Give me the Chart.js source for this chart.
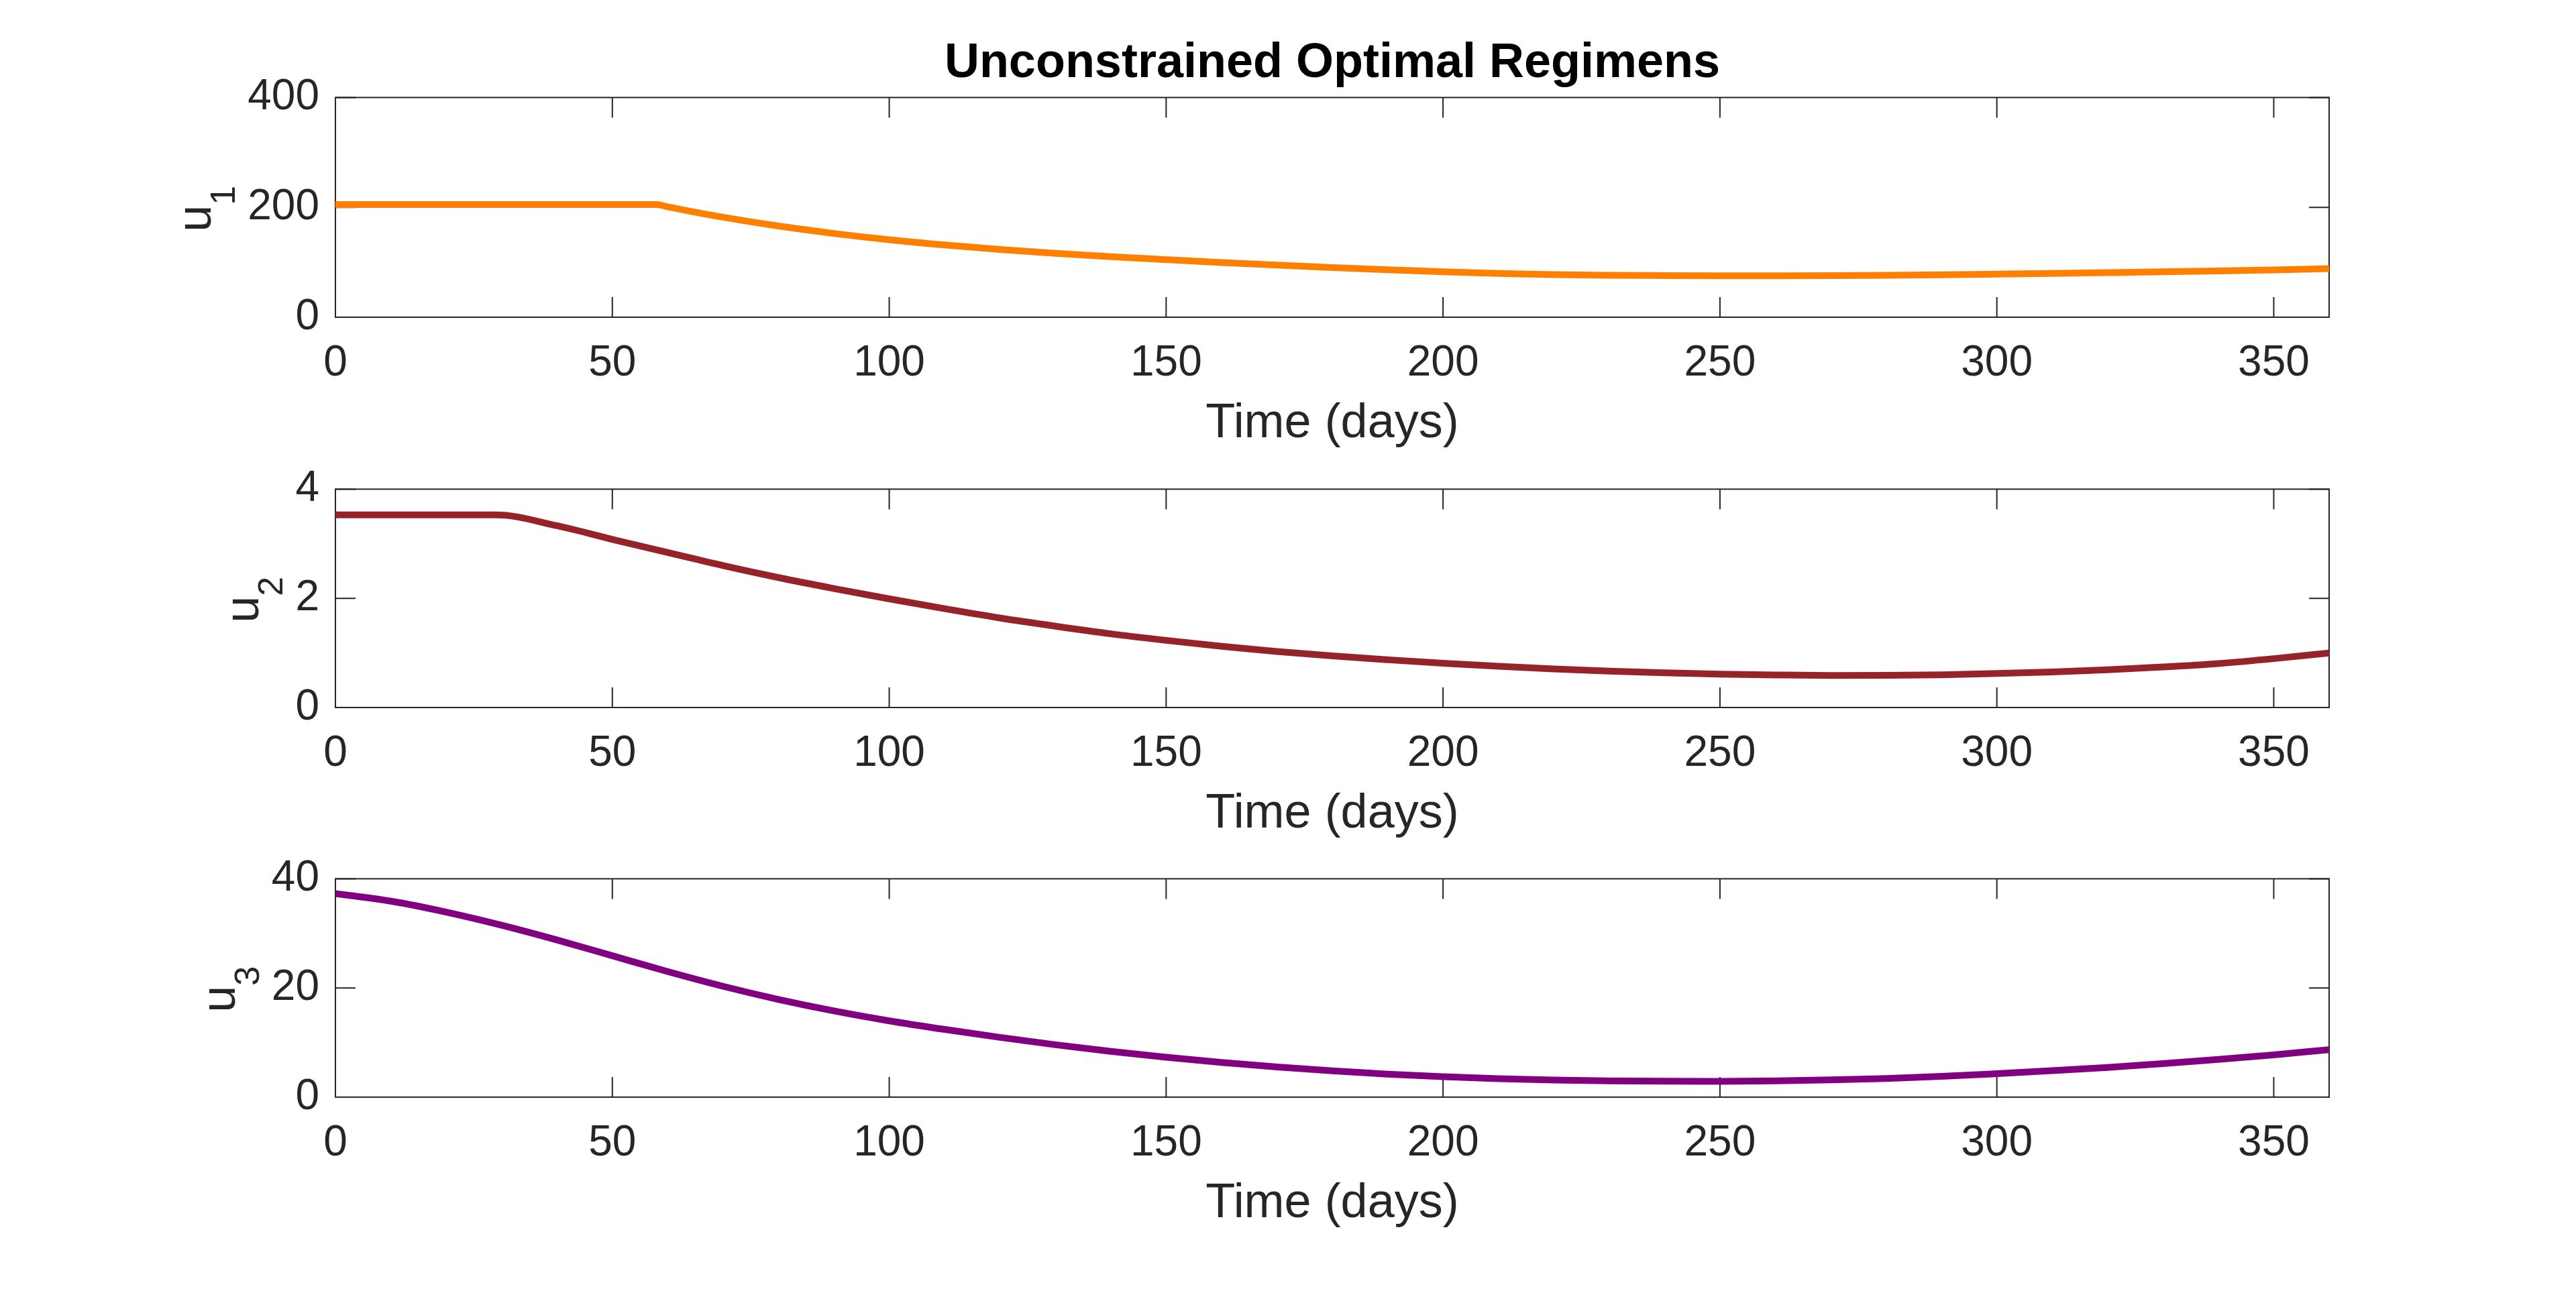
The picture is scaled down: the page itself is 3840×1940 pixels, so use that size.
<!DOCTYPE html>
<html>
<head>
<meta charset="utf-8">
<title>Unconstrained Optimal Regimens</title>
<script src="https://cdn.jsdelivr.net/npm/chart.js@4.4.1/dist/chart.umd.min.js"></script>
<style>
  html, body { margin: 0; padding: 0; background: #fff; }
  body { width: 3840px; height: 1940px; position: relative; overflow: hidden; }
  .panel { position: absolute; left: 0; width: 3840px; }
</style>
</head>
<body>
<div class="panel" style="top:0px;height:677px"><canvas id="c1"></canvas></div>
<div class="panel" style="top:667px;height:592px"><canvas id="c2"></canvas></div>
<div class="panel" style="top:1248px;height:592px"><canvas id="c3"></canvas></div>
<script>
// values
const xTicks = [0, 50, 100, 150, 200, 250, 300, 350];
const xMax = 360;

const u1Days = [0, 10, 20, 30, 40, 50, 58, 60, 70, 80, 90, 100, 110, 120, 130, 140, 150, 160, 170, 180,
    190, 200, 210, 220, 230, 240, 250, 260, 270, 280, 290, 300, 310, 320, 330, 340, 350, 360];
const u1Values = [205, 205, 205, 205, 205, 205, 205, 201, 182, 166, 152.5, 141, 131.5, 123.3, 116.3, 110.2, 104.8, 99.6, 94.8, 90.4,
    86.3, 82.6, 79.6, 77.6, 76.4, 75.8, 75.5, 75.5, 75.8, 76.4, 77.3, 78.5, 79.8, 81.2, 82.7, 84.3, 86.2, 88.5];
const u1Ticks = [0, 200, 400];

const u2Days = [0, 10, 20, 29, 40, 50, 60, 70, 80, 90, 100, 110, 120, 130, 140, 150, 160, 170, 180,
    190, 200, 210, 220, 230, 240, 250, 260, 270, 280, 290, 300, 310, 320, 330, 340, 350, 360];
const u2Values = [3.53, 3.53, 3.53, 3.53, 3.33, 3.08, 2.84, 2.60, 2.38, 2.18, 1.99, 1.81, 1.64, 1.49, 1.35, 1.23, 1.12, 1.025, 0.945,
    0.875, 0.81, 0.755, 0.705, 0.665, 0.635, 0.612, 0.597, 0.588, 0.59, 0.60, 0.622, 0.652, 0.692, 0.742, 0.805, 0.895, 1.0];
const u2Ticks = [0, 2, 4];

const u3Days = [0, 10, 20, 30, 40, 50, 60, 70, 80, 90, 100, 110, 120, 130, 140, 150, 160, 170, 180,
    190, 200, 210, 220, 230, 240, 250, 260, 270, 280, 290, 300, 310, 320, 330, 340, 350, 360];
const u3Values = [37.3, 35.9, 33.9, 31.5, 28.8, 25.9, 23.0, 20.3, 17.9, 15.8, 13.98, 12.4, 10.95, 9.6, 8.38, 7.3, 6.35, 5.52, 4.82,
    4.22, 3.74, 3.38, 3.13, 2.98, 2.91, 2.9, 2.97, 3.15, 3.42, 3.8, 4.3, 4.85, 5.45, 6.15, 6.9, 7.75, 8.7];
const u3Ticks = [0, 20, 40];

const FONT = '"Liberation Sans", Arial, Helvetica, sans-serif';
const INK = '#262626';

// box, inward ticks on all four sides and the subscripted y label
const matlabAxes = {
    id: 'matlabAxes',
    beforeDatasetsDraw(chart) {
        const { ctx, chartArea: a, scales: { x, y } } = chart;
        ctx.save();
        ctx.strokeStyle = INK;
        ctx.lineWidth = 2;
        ctx.beginPath();
        x.ticks.forEach(t => {
            const px = x.getPixelForValue(t.value);
            ctx.moveTo(px, a.bottom); ctx.lineTo(px, a.bottom - 30);
            ctx.moveTo(px, a.top); ctx.lineTo(px, a.top + 30);
        });
        y.ticks.forEach(t => {
            const py = y.getPixelForValue(t.value);
            ctx.moveTo(a.left, py); ctx.lineTo(a.left + 30, py);
            ctx.moveTo(a.right, py); ctx.lineTo(a.right - 30, py);
        });
        ctx.stroke();
        ctx.strokeRect(a.left, a.top, a.right - a.left, a.bottom - a.top);
        ctx.restore();
    },
    afterDraw(chart, args, opts) {
        const { ctx, chartArea: a, scales: { y } } = chart;
        ctx.save();
        ctx.font = '64px ' + FONT;
        const widest = Math.max(...y.ticks.map(t => ctx.measureText(String(t.label)).width));
        const baseX = a.left - 24 - widest - 55;
        const cy = (a.top + a.bottom) / 2 + 2;
        ctx.translate(baseX, cy);
        ctx.rotate(-Math.PI / 2);
        ctx.fillStyle = INK;
        ctx.textAlign = 'left';
        ctx.textBaseline = 'alphabetic';
        ctx.font = '72px ' + FONT;
        const wMain = ctx.measureText(opts.main).width;
        ctx.font = '52px ' + FONT;
        const wSub = ctx.measureText(opts.sub).width;
        const x0 = -(wMain + wSub) / 2;
        ctx.font = '72px ' + FONT;
        ctx.fillText(opts.main, x0, 0);
        ctx.font = '52px ' + FONT;
        ctx.fillText(opts.sub, x0 + wMain, 36);
        ctx.restore();
    }
};

function makePanel(id, days, values, color, yTicks, sub, withTitle) {
    const ctx = document.getElementById(id).getContext('2d');
    return new Chart(ctx, {
        type: 'line',
        data: {
            datasets: [{
                data: days.map((d, i) => ({ x: d, y: values[i] })),
                borderColor: color,
                borderWidth: 10,
                pointRadius: 0,
                fill: false,
                cubicInterpolationMode: 'monotone'
            }]
        },
        plugins: [matlabAxes],
        options: {
            responsive: true,
            maintainAspectRatio: false,
            animation: false,
            events: [],
            layout: {
                padding: { left: 0, right: 368, top: withTitle ? 0 : 60, bottom: 0 }
            },
            plugins: {
                legend: { display: false },
                tooltip: { enabled: false },
                title: {
                    display: withTitle,
                    text: 'Unconstrained Optimal Regimens',
                    color: '#000',
                    fullSize: false,
                    font: { family: FONT, size: 72, weight: 'bold' },
                    padding: { top: 52, bottom: 7 }
                },
                matlabAxes: { main: 'u', sub: sub }
            },
            scales: {
                x: {
                    type: 'linear',
                    min: 0,
                    max: xMax,
                    afterBuildTicks: s => { s.ticks = xTicks.map(v => ({ value: v })); },
                    afterFit: s => { s.height = 204; },
                    grid: { display: false, drawTicks: false },
                    border: { display: false },
                    ticks: {
                        color: INK,
                        font: { family: FONT, size: 64 },
                        padding: 31,
                        maxRotation: 0,
                        autoSkip: false
                    },
                    title: {
                        display: true,
                        text: 'Time (days)',
                        color: INK,
                        font: { family: FONT, size: 72 },
                        padding: { top: 0, bottom: 2 }
                    }
                },
                y: {
                    min: yTicks[0],
                    max: yTicks[yTicks.length - 1],
                    afterBuildTicks: s => { s.ticks = yTicks.map(v => ({ value: v })); },
                    afterFit: s => { s.width = 500; },
                    grid: { display: false, drawTicks: false },
                    border: { display: false },
                    ticks: {
                        color: INK,
                        font: { family: FONT, size: 64 },
                        padding: 24
                    }
                }
            }
        }
    });
}

makePanel('c1', u1Days, u1Values, '#FF8000', u1Ticks, '1', true);
makePanel('c2', u2Days, u2Values, '#97232A', u2Ticks, '2', false);
makePanel('c3', u3Days, u3Values, '#800080', u3Ticks, '3', false);
</script>
</body>
</html>
